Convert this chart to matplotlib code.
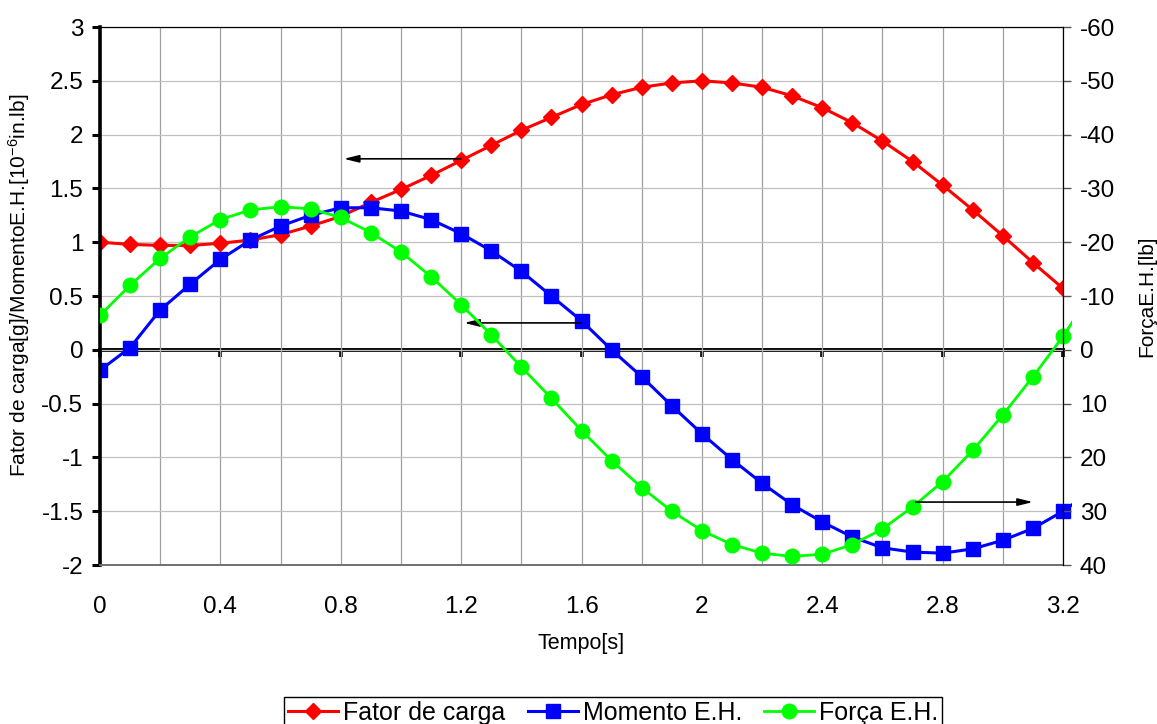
import numpy as np
import matplotlib
matplotlib.use("Agg")
import matplotlib.pyplot as plt
from matplotlib.patches import Rectangle
from matplotlib.ticker import FormatStrFormatter, MultipleLocator

plt.rcParams['font.family'] = ['Liberation Sans', 'DejaVu Sans']
plt.rcParams['axes.unicode_minus'] = False
plt.rcParams['mathtext.fontset'] = 'custom'
plt.rcParams['mathtext.rm'] = 'Liberation Sans'
plt.rcParams['mathtext.default'] = 'regular'

# Tempo [s] (last sample sits just past the plotted range)
tempo = [0.0, 0.1, 0.2, 0.3, 0.4, 0.5, 0.6, 0.7, 0.8, 0.9, 1.0, 1.1, 1.2, 1.3,
         1.4, 1.5, 1.6, 1.7, 1.8, 1.9, 2.0, 2.1, 2.2, 2.3, 2.4, 2.5, 2.6, 2.7,
         2.8, 2.9, 3.0, 3.1, 3.2, 3.3]

# Fator de carga [g]
fator = [1.00, 0.98, 0.97, 0.97, 0.99, 1.02, 1.07, 1.15, 1.24, 1.37, 1.49, 1.62,
         1.76, 1.90, 2.04, 2.16, 2.28, 2.37, 2.44, 2.48, 2.50, 2.48, 2.44, 2.36,
         2.25, 2.11, 1.94, 1.75, 1.53, 1.30, 1.06, 0.81, 0.57]

# Momento E.H. [10^-6 in.lb]
momento = [-0.19, 0.02, 0.37, 0.61, 0.84, 1.02, 1.15, 1.25, 1.32, 1.32, 1.29, 1.21,
           1.08, 0.92, 0.73, 0.50, 0.27, 0.00, -0.25, -0.52, -0.78, -1.02, -1.24,
           -1.44, -1.60, -1.74, -1.84, -1.88, -1.89, -1.85, -1.77, -1.66, -1.50, -1.30]

# Força E.H. [lb] (eixo direito, invertido)
forca = [-6.4, -12.0, -17.0, -21.0, -24.2, -26.0, -26.6, -26.2, -24.6, -21.8, -18.2,
         -13.6, -8.4, -2.8, 3.2, 9.0, 15.0, 20.6, 25.6, 30.0, 33.6, 36.2, 37.8, 38.4,
         38.0, 36.2, 33.3, 29.2, 24.5, 18.7, 12.1, 5.0, -2.5, -11.0]

x_ticks = [0, 0.4, 0.8, 1.2, 1.6, 2.0, 2.4, 2.8, 3.2]

fig = plt.figure(figsize=(11.57, 7.24), dpi=100)
ax = fig.add_axes([0.0864, 0.2196, 0.8324, 0.7431])
ax2 = ax.twinx()

ax.set_xlim(0, 3.2)
ax.set_ylim(-2, 3)
ax2.set_ylim(40, -60)

# grid
ax.xaxis.set_major_locator(MultipleLocator(0.4))
ax.xaxis.set_minor_locator(MultipleLocator(0.2))
ax.yaxis.set_major_locator(MultipleLocator(0.5))
ax.grid(which='both', axis='x', color='#a0a0a0', lw=0.9)
ax.grid(which='major', axis='y', color='#c0c0c0', lw=0.9)
ax.set_axisbelow(True)
ax.yaxis.set_major_formatter(FormatStrFormatter('%g'))
ax.xaxis.set_major_formatter(FormatStrFormatter('%g'))

# spines and ticks
ax.spines['left'].set_linewidth(2.6)
ax.spines['left'].set_color('black')
ax.spines['bottom'].set_color('#707070')
ax.spines['bottom'].set_linewidth(1.4)
ax.spines['top'].set_linewidth(0.9)
ax.spines['right'].set_visible(False)
ax2.spines['left'].set_visible(False)
ax2.spines['bottom'].set_visible(False)
ax2.spines['top'].set_visible(False)
ax2.spines['right'].set_linewidth(0.9)

ax.tick_params(axis='y', which='major', direction='out', length=6, width=2.2,
               labelsize=17.5, pad=6)
ax.tick_params(axis='x', which='both', length=0, labelsize=17.5, pad=22)
ax2.yaxis.set_major_locator(MultipleLocator(10))
ax2.tick_params(axis='y', direction='out', length=6, width=1, color='#555555',
                labelsize=17.5, pad=6)

# heavy zero line with its own tick marks
zero_ax = ax.secondary_xaxis(0.4)
zero_ax.set_xticks(x_ticks)
zero_ax.tick_params(direction='out', length=5, width=2.6, labelbottom=False)
zero_ax.spines['bottom'].set_linewidth(2.8)

l1, = ax.plot(tempo[:len(fator)], fator, color='#ff0000', lw=2.2, marker='D',
              markersize=8.5, label='Fator de carga')
l2, = ax.plot(tempo, momento, color='#0000ff', lw=2.2, marker='s',
              markersize=10, label='Momento E.H.')
l3, = ax2.plot(tempo, forca, color='#00ff00', lw=2.0, marker='o',
               markersize=10.5, label='Força E.H.')
l2.set_clip_path(Rectangle((0, 0), 1.009, 1, transform=ax.transAxes,
                           facecolor='none'))
l3.set_clip_path(Rectangle((0, 0), 1.009, 1, transform=ax2.transAxes,
                           facecolor='none'))

# arrows pointing at the axis of each curve
arrow = dict(arrowstyle='-|>,head_length=0.9,head_width=0.22', color='black',
             lw=1.2, shrinkA=0, shrinkB=0)
ax.annotate('', xy=(0.81, 1.775), xytext=(1.2, 1.775), arrowprops=arrow)
ax.annotate('', xy=(1.21, 0.25), xytext=(1.6, 0.25), arrowprops=arrow)
ax2.annotate('', xy=(3.1, 28.3), xytext=(2.71, 28.3), arrowprops=arrow)

ax.set_xlabel('Tempo[s]', fontsize=15.5, labelpad=11)
ax.set_ylabel('Fator de carga[g]/MomentoE.H.[10$^{-6}$in.lb]', fontsize=15)
ax.yaxis.set_label_coords(-0.071, 0.52)
ax2.set_ylabel('ForçaE.H.[lb]', fontsize=15, rotation=90, labelpad=16)

fig.legend(handles=[l1, l2, l3], loc='upper center', bbox_to_anchor=(0.530, 0.0373),
           ncol=3, fontsize=18, frameon=True, fancybox=False, edgecolor='black',
           framealpha=1, handlelength=2.0, handletextpad=0.2, columnspacing=0.9,
           borderpad=0.15, borderaxespad=0)

fig.savefig('out.png', dpi=100)
